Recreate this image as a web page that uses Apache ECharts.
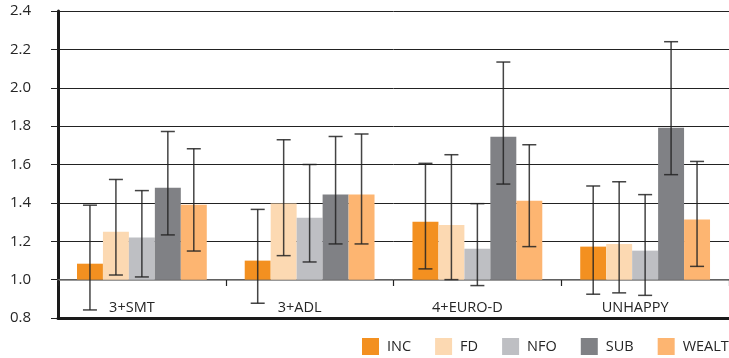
<!DOCTYPE html>
<html><head><meta charset="utf-8">
<script src="https://cdn.jsdelivr.net/npm/echarts@6/dist/echarts.min.js"></script>
<style>html,body{margin:0;padding:0;background:#fff}#c{width:729px;height:358px}</style>
</head><body><div id="c"></div>
<script>
const categories = ['3+SMT', '3+ADL', '4+EURO-D', 'UNHAPPY'];
const seriesNames = ['INC', 'FD', 'NFO', 'SUB', 'WEALTH'];
const yTicks = [0.8, 1.0, 1.2, 1.4, 1.6, 1.8, 2.0, 2.2, 2.4];

const INC = [1.083, 1.099, 1.302, 1.172];
const INC_low = [0.842, 0.877, 1.056, 0.924];
const INC_high = [1.388, 1.366, 1.606, 1.488];

const FD = [1.250, 1.397, 1.285, 1.186];
const FD_low = [1.024, 1.125, 1.000, 0.931];
const FD_high = [1.522, 1.729, 1.651, 1.510];

const NFO = [1.219, 1.323, 1.161, 1.151];
const NFO_low = [1.014, 1.092, 0.969, 0.918];
const NFO_high = [1.464, 1.600, 1.396, 1.443];

const SUB = [1.479, 1.443, 1.745, 1.792];
const SUB_low = [1.233, 1.186, 1.498, 1.547];
const SUB_high = [1.772, 1.746, 2.134, 2.240];

const WEALTH = [1.390, 1.443, 1.411, 1.313];
const WEALTH_low = [1.149, 1.186, 1.172, 1.069];
const WEALTH_high = [1.682, 1.759, 1.703, 1.616];

const baseline = 1.0;
const colors = ['#F39020', '#FCD9B2', '#BEBFC3', '#808185', '#FDB571'];

const values = [INC, FD, NFO, SUB, WEALTH];
const lows = [INC_low, FD_low, NFO_low, SUB_low, WEALTH_low];
const highs = [INC_high, FD_high, NFO_high, SUB_high, WEALTH_high];

const FONT = '"Open Sans", sans-serif';
const TXT = '#262626';
const chart = echarts.init(document.getElementById('c'));

function makeRender(si) {
  return function (params, api) {
    const cat = api.value(0), v = api.value(1), lo = api.value(2), hi = api.value(3);
    const catW = api.size([1, 0])[0];
    const bw = catW * 26 / 168;
    const top = api.coord([cat, v]);
    const base = api.coord([cat, baseline]);
    const left = top[0] - 2.5 * bw + si * bw;
    const cx = left + bw / 2;
    const yLo = api.coord([cat, lo])[1];
    const yHi = api.coord([cat, hi])[1];
    const capHalf = 7;
    const eStyle = { stroke: 'rgba(35,35,35,0.85)', lineWidth: 1.5 };
    return {
      type: 'group',
      children: [
        { type: 'rect', shape: { x: left, y: top[1], width: bw, height: base[1] - top[1] },
          style: { fill: colors[si] } },
        { type: 'line', shape: { x1: cx, y1: yHi, x2: cx, y2: yLo }, style: eStyle },
        { type: 'line', shape: { x1: cx - capHalf, y1: yHi, x2: cx + capHalf, y2: yHi }, style: eStyle },
        { type: 'line', shape: { x1: cx - capHalf, y1: yLo, x2: cx + capHalf, y2: yLo }, style: eStyle }
      ]
    };
  };
}

const series = seriesNames.map((name, si) => ({
  name: name,
  type: 'custom',
  xAxisIndex: 1,
  z: 3,
  itemStyle: { color: colors[si] },
  renderItem: makeRender(si),
  encode: { x: 0, y: 1 },
  data: categories.map((c, ci) => [ci, values[si][ci], lows[si][ci], highs[si][ci]])
}));

chart.setOption({
  animation: false,
  backgroundColor: '#fff',
  grid: { left: 58, right: 0, top: 11, bottom: 40, containLabel: false },
  legend: {
    data: seriesNames,
    left: 362, top: 338, width: 600, padding: 0,
    icon: 'rect', itemWidth: 17, itemHeight: 17, itemGap: 24,
    textStyle: { fontFamily: FONT, fontSize: 14.5, color: TXT, padding: [0, 0, 0, 3] }
  },
  xAxis: [
    {
      type: 'category', data: categories, position: 'bottom',
      axisLine: { show: true, lineStyle: { color: '#1a1a1a', width: 3 } },
      axisTick: { show: false }, axisLabel: { show: false }, splitLine: { show: false }, z: 1
    },
    {
      type: 'category', data: categories, position: 'bottom', offset: -38, z: 2,
      axisLine: { show: true, lineStyle: { color: '#777', width: 1.5 } },
      axisTick: { show: true, length: 6, lineStyle: { color: '#222', width: 1.2 } },
      axisLabel: { margin: 20, fontFamily: FONT, fontSize: 14.5, color: TXT, padding: [0, 20, 0, 0] },
      splitLine: { show: false }
    }
  ],
  yAxis: {
    type: 'value', min: yTicks[0], max: yTicks[yTicks.length - 1], interval: 0.2,
    axisLine: { show: true, lineStyle: { color: '#1a1a1a', width: 3 } },
    axisTick: { show: true, length: 7, lineStyle: { color: '#222', width: 1 } },
    axisLabel: { margin: 27, fontFamily: FONT, fontSize: 15, color: TXT,
      formatter: v => v.toFixed(1) },
    splitLine: { show: true, lineStyle: { color: '#222', width: 1 } }
  },
  series: series
});
</script></body></html>
